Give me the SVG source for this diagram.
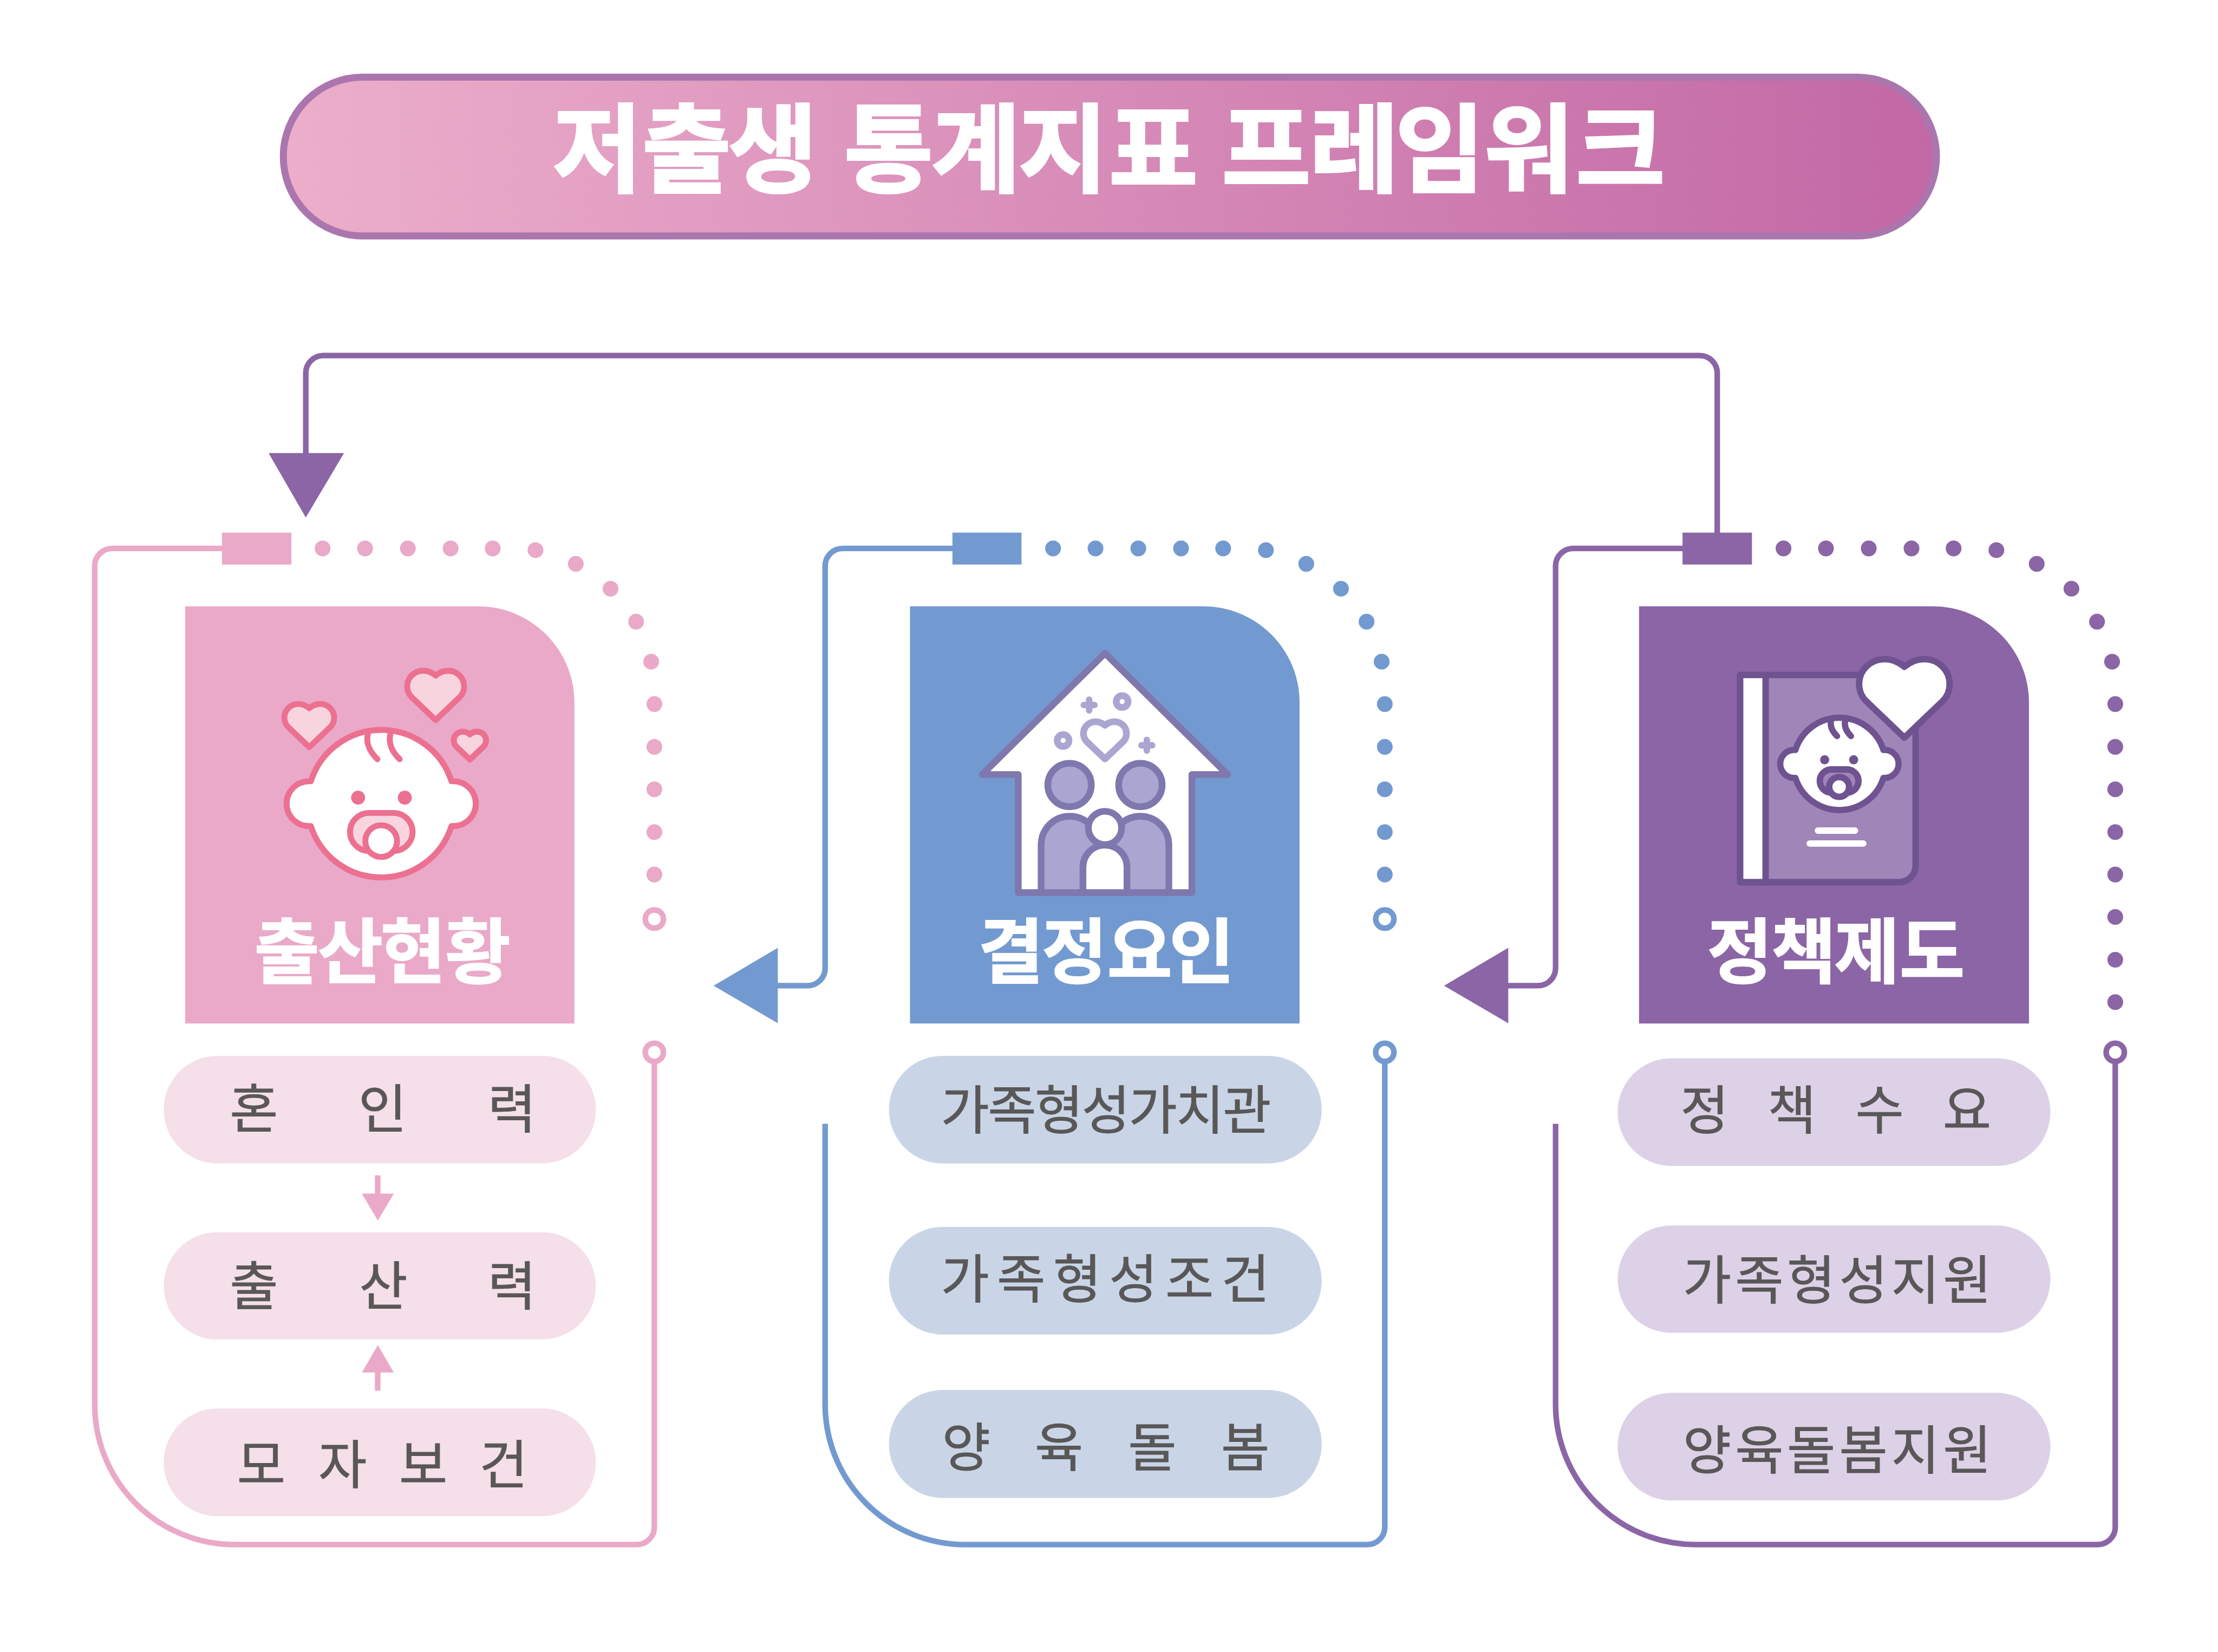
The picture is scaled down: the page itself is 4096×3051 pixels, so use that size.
<svg xmlns="http://www.w3.org/2000/svg" xmlns:xlink="http://www.w3.org/1999/xlink" width="4096" height="3051" viewBox="0 0 4096 3051">
<style>
text{font-family:"Noto Sans CJK KR","Noto Sans",sans-serif;text-anchor:middle}
.h{font-weight:700;fill:#fff;font-size:202px;stroke:#fff;stroke-width:3}
.t{font-weight:700;fill:#fff;font-size:276px;stroke:#fff;stroke-width:6}
.l{fill:#595757;font-size:150px;font-weight:400;stroke:#595757;stroke-width:1.500}
.fp{fill:none;stroke:#EAA9C9;stroke-width:16}
.fb{fill:none;stroke:#739AD0;stroke-width:16}
.fv{fill:none;stroke:#8B65A6;stroke-width:16}
.rp{fill:#fff;stroke:#EAA9C9;stroke-width:16}
.rb{fill:#fff;stroke:#739AD0;stroke-width:16}
.rv{fill:#fff;stroke:#8B65A6;stroke-width:16}
.p{fill:#EAA9C9}.b{fill:#739AD0}.v{fill:#8B65A6}
.pp{fill:#F5DFE8}.pb{fill:#C9D5E7}.pv{fill:#DDD1E7}
.is{stroke-linejoin:round;stroke-linecap:round}
</style>
<defs>
<linearGradient id="tg" x1="0" x2="1" y1="0" y2="0"><stop offset="0" stop-color="#ECAECB"/><stop offset="1" stop-color="#C268A5"/></linearGradient>
<path id="heart" d="M0 18C-14 6-30 0-46 0C-80 0-106 26-106 58C-106 76-100 88-90 98L0 184L90 98C100 88 106 76 106 58C106 26 80 0 46 0C30 0 14 6 0 18Z"/>
<path id="head" d="M505 690A275 275 0 0 1 1029 690L1036 690A83.500 83.500 0 0 1 1036 857L1029 857A275 275 0 0 1 505 857L498 857A83.500 83.500 0 0 1 498 690Z"/>
<path id="hair" d="M718 512C708 550 725 580 753 608M802 510C792 550 808 580 836 608"/>
<g id="dotsA"><circle cx="920" cy="1564" r="22.500"/><circle cx="1041" cy="1564" r="22.500"/><circle cx="1163" cy="1564" r="22.500"/><circle cx="1285" cy="1564" r="22.500"/><circle cx="1405" cy="1564" r="22.500"/><circle cx="1527" cy="1569" r="22.500"/><circle cx="1642" cy="1608" r="22.500"/><circle cx="1741" cy="1679" r="22.500"/><circle cx="1814" cy="1773" r="22.500"/><circle cx="1857" cy="1887" r="22.500"/><circle cx="1866" cy="2008" r="22.500"/><circle cx="1866" cy="2130" r="22.500"/><circle cx="1866" cy="2251" r="22.500"/><circle cx="1866" cy="2373" r="22.500"/><circle cx="1866" cy="2494" r="22.500"/></g>
</defs>
<rect width="4096" height="3051" fill="#fff"/>
<g transform="scale(0.64759)">
<g id="title">
<rect x="808" y="220" width="4714" height="453" rx="226" fill="url(#tg)" stroke="#AB76AE" stroke-width="20"/>
<text class="t" y="526" x="1703 1958 2204 2534 2783 3031 3289 3611 3862 4106 4360 4621">저출생통계지표프레임워크</text>
</g>
<g id="connectors">
<path class="fv" d="M4897 1530V1064A50 50 0 0 0 4847 1014H922A50 50 0 0 0 872 1064V1300"/>
<path class="v" d="M766 1292H981L872 1476Z"/>
<path class="fp" d="M640 1564H320A50 50 0 0 0 270 1614V4005A400 400 0 0 0 670 4405H1816A50 50 0 0 0 1866 4355V3030"/>
<rect class="p" x="633" y="1519" width="198" height="91"/>
<use xlink:href="#dotsA" class="p"/>
<circle class="rp" cx="1866" cy="2621" r="26"/>
<circle class="rp" cx="1866" cy="3001" r="26"/>
<path class="fb" d="M2720 1564H2403A50 50 0 0 0 2353 1614V2761A50 50 0 0 1 2303 2811H2210"/>
<path class="b" d="M2218 2703V2918L2035 2811Z"/>
<path class="fb" d="M2353 3205V4005A400 400 0 0 0 2753 4405H3899A50 50 0 0 0 3949 4355V3030"/>
<rect class="b" x="2716" y="1519" width="197" height="91"/>
<use xlink:href="#dotsA" class="b" x="2083"/>
<circle class="rb" cx="3949" cy="2621" r="26"/>
<circle class="rb" cx="3949" cy="3001" r="26"/>
<path class="fv" d="M4800 1564H4486A50 50 0 0 0 4436 1614V2761A50 50 0 0 1 4386 2811H4293"/>
<path class="v" d="M4301 2703V2918L4118 2811Z"/>
<path class="fv" d="M4436 3205V4005A400 400 0 0 0 4836 4405H5982A50 50 0 0 0 6032 4355V3030"/>
<rect class="v" x="4798" y="1519" width="198" height="91"/>
<use xlink:href="#dotsA" class="v" x="4166"/>
<circle class="v" cx="6032" cy="2615" r="22.500"/><circle class="v" cx="6032" cy="2737" r="22.500"/><circle class="v" cx="6032" cy="2858" r="22.500"/>
<circle class="rv" cx="6032" cy="3001" r="26"/>
<path class="fp" d="M1077 3352V3410"/><path class="p" d="M1032 3404H1123L1077.500 3481Z"/>
<path class="fp" d="M1077 3966V3908"/><path class="p" d="M1032 3914H1123L1077.500 3836Z"/>
</g>
<g id="node-birth">
<path class="p" d="M528 1729H1363A275 275 0 0 1 1638 2004V2919H528Z"/>
<g transform="translate(500,1700) scale(0.7653)" class="is" stroke="#EC7090">
<use xlink:href="#heart" transform="translate(970,278)" fill="#F8D4DF" stroke-width="22"/>
<use xlink:href="#heart" transform="translate(499,402) scale(0.875)" fill="#F8D4DF" stroke-width="25"/>
<use xlink:href="#heart" transform="translate(1097.500,505) scale(0.566)" fill="#F8D4DF" stroke-width="39"/>
<use xlink:href="#head" fill="#fff" stroke-width="22"/>
<use xlink:href="#hair" fill="none" stroke-width="22"/>
<circle cx="681" cy="751" r="26" fill="#EC7090" stroke="none"/><circle cx="855" cy="751" r="26" fill="#EC7090" stroke="none"/>
<rect x="651" y="808" width="233" height="142" rx="71" fill="#F8D4DF" stroke-width="22"/>
<circle cx="767" cy="913" r="59" fill="#fff" stroke-width="22"/>
</g>
<text class="h" y="2787" x="818 999 1178 1363">출산현황</text>
<rect class="pp" x="467" y="3011" width="1232" height="307" rx="153"/>
<text class="l" y="3216" x="724 1091 1460">혼인력</text>
<rect class="pp" x="467" y="3514" width="1232" height="306" rx="153"/>
<text class="l" y="3722" x="724 1093 1460">출산력</text>
<rect class="pp" x="467" y="4017" width="1232" height="307" rx="153"/>
<text class="l" y="4231" x="745 977 1207 1436">모자보건</text>
</g>
<g id="node-factor">
<path class="b" d="M2595 1729H3431A275 275 0 0 1 3706 2004V2919H2595Z"/>
<g transform="translate(2600,1700) scale(0.7653)" class="is" stroke="#7F78AE" stroke-width="25">
<path d="M720 213L1177 665H1044V1105H397V665H262Z" fill="#fff"/>
<circle cx="588" cy="704" r="81" fill="#AAA5D1"/><circle cx="852" cy="704" r="81" fill="#AAA5D1"/>
<path d="M482 1105V927A106 106 0 0 1 695 927V1105Z" fill="#AAA5D1"/>
<path d="M958 1105V927A106 106 0 0 0 745 927V1105Z" fill="#AAA5D1"/>
<path d="M638 1105V1010A82 82 0 0 1 802 1010V1105Z" fill="#fff"/>
<circle cx="720" cy="864" r="62" fill="#fff"/>
<g stroke="#AAA5D1"><use xlink:href="#heart" transform="translate(720,468) scale(0.755)" fill="#fff" stroke-width="33"/>
<circle cx="784" cy="393" r="22" fill="none"/><circle cx="564" cy="538" r="22" fill="none"/>
<path d="M641 406H681M661 386V426M856 556H896M876 536V576" fill="none" stroke-width="24"/></g>
</g>
<text class="h" y="2787" x="2883 3064 3250 3427">결정요인</text>
<rect class="pb" x="2535" y="3011" width="1234" height="307" rx="153"/>
<text class="l" y="3220" x="2752 2886 3020 3154 3288 3422 3556">가족형성가치관</text>
<rect class="pb" x="2535" y="3499" width="1234" height="307" rx="153"/>
<text class="l" y="3701" x="2752 2912 3072 3232 3392 3552">가족형성조건</text>
<rect class="pb" x="2535" y="3964" width="1234" height="308" rx="153"/>
<text class="l" y="4182" x="2755 3020 3286 3551">양육돌봄</text>
</g>
<g id="node-policy">
<path class="v" d="M4674 1729H5511A275 275 0 0 1 5786 2004V2919H4674Z"/>
<g transform="translate(4650,1700) scale(0.7653)" class="is" stroke="#6F5290" stroke-width="24">
<path d="M408 294H1062V1004A62 62 0 0 1 1000 1066H408Z" fill="#A085B8"/>
<path d="M408 294H503V1066H408Z" fill="#fff"/>
<use xlink:href="#heart" transform="translate(1020,235) scale(1.59)" fill="#fff" stroke-width="15"/>
<g transform="translate(298.200,141.500) scale(0.6255)" stroke-width="37">
<use xlink:href="#head" fill="#fff"/>
<use xlink:href="#hair" fill="none"/>
</g>
<circle cx="723" cy="610" r="17" fill="#6F5290" stroke="none"/><circle cx="831" cy="610" r="17" fill="#6F5290" stroke="none"/>
<rect x="705" y="646" width="144" height="86" rx="43" fill="#A085B8"/>
<circle cx="777" cy="711" r="37" fill="#fff" stroke-width="24" stroke="#6F5290"/>
<path d="M698 874H836M667 922H867" stroke="#fff" fill="none"/>
</g>
<text class="h" y="2787" x="4961 5143 5324 5510">정책제도</text>
<rect class="pv" x="4613" y="3018" width="1234" height="307" rx="153"/>
<text class="l" y="3219" x="4861 5110 5360 5609">정책수요</text>
<rect class="pv" x="4613" y="3495" width="1234" height="306" rx="153"/>
<text class="l" y="3705" x="4868 5017 5165 5314 5462 5610">가족형성지원</text>
<rect class="pv" x="4613" y="3972" width="1234" height="307" rx="153"/>
<text class="l" y="4190" x="4868 5017 5165 5314 5462 5610">양육돌봄지원</text>
</g>
</g>
</svg>
